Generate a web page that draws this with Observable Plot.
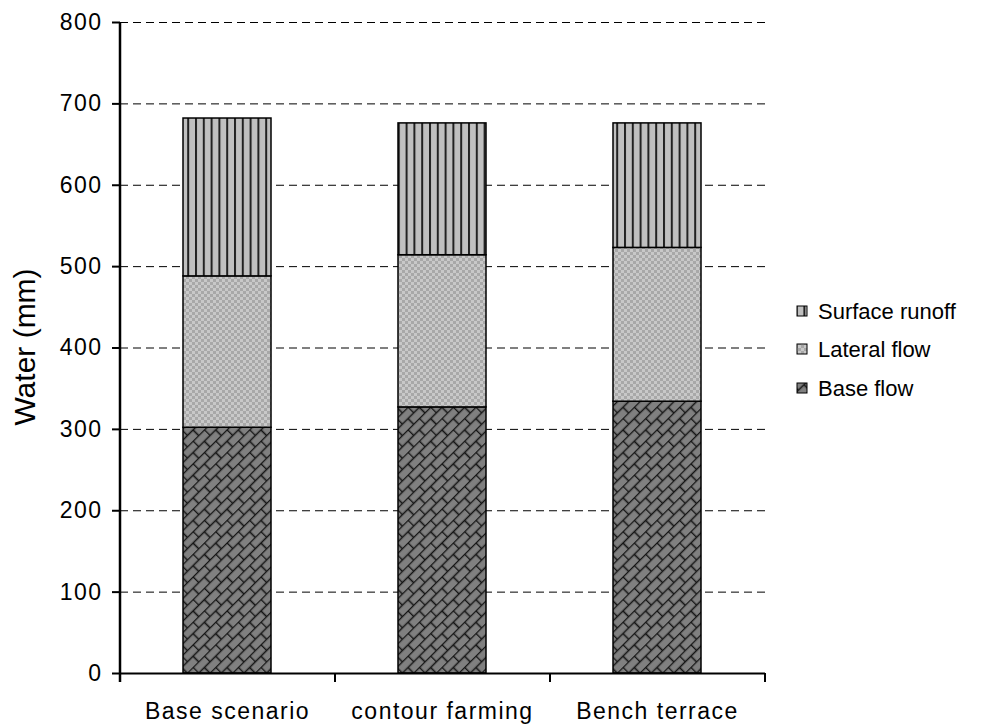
<!DOCTYPE html>
<html><head><meta charset="utf-8">
<script src="https://cdn.jsdelivr.net/npm/d3@7"></script>
<script src="https://cdn.jsdelivr.net/npm/@observablehq/plot@0.6"></script>
<style>body{margin:0;background:#fff;font-family:"Liberation Sans",Arial,sans-serif}</style>
</head><body><div id="chart"></div>
<script>
const categories = ["Base scenario", "contour farming", "Bench terrace"];
const series = ["Base flow", "Lateral flow", "Surface runoff"];
const baseFlow = [302, 327, 334];
const lateralFlow = [186, 187, 189];
const surfaceRunoff = [194, 162, 153];
const yTicks = [0, 100, 200, 300, 400, 500, 600, 700, 800];
const gridTicks = [100, 200, 300, 400, 500, 600, 700, 800];
const legendOrder = ["Surface runoff", "Lateral flow", "Base flow"];
const yTitle = "Water (mm)";

const valuesBySeries = {"Base flow": baseFlow, "Lateral flow": lateralFlow, "Surface runoff": surfaceRunoff};
const patternIds = {"Base flow": "pBase", "Lateral flow": "pLateral", "Surface runoff": "pSurface"};
const data = series.flatMap(s => categories.map((c, i) => ({category: c, series: s, value: valuesBySeries[s][i]})));

const step = (984 - 120 - 219) / categories.length;
const font = "Liberation Sans, Arial, sans-serif";

const chart = Plot.plot({
  width: 984, height: 724,
  marginLeft: 120, marginRight: 219, marginTop: 22, marginBottom: 51,
  style: {fontFamily: font, fontSize: "23px", color: "#000", background: "#fff", overflow: "visible"},
  x: {domain: categories, paddingInner: 0.59, paddingOuter: 0.295, label: null},
  y: {domain: [0, 800], label: null},
  color: {domain: series, range: series.map(s => `url(#${patternIds[s]})`)},
  marks: [
    Plot.ruleY(gridTicks, {stroke: "#000", strokeWidth: 1, strokeDasharray: "8,5"}),
    Plot.barY(data, {x: "category", y: "value", fill: "series", stroke: "#000", strokeWidth: 1.5}),
    Plot.axisY({ticks: yTicks, tickSize: 8, tickPadding: 10, strokeWidth: 2, label: null}),
    Plot.axisX({tickSize: 0, tickPadding: 29, label: null}),
    Plot.ruleY([0], {stroke: "#000", strokeWidth: 2}),
    Plot.ruleX([categories[0]], {dx: -step / 2, y1: 800, y2: 0, insetBottom: -9, stroke: "#000", strokeWidth: 2.5}),
    Plot.ruleX(categories.slice(1), {dx: -step / 2, y1: 0, y2: 0, insetBottom: -9, stroke: "#000", strokeWidth: 2}),
    Plot.ruleX([categories[categories.length - 1]], {dx: step / 2, y1: 0, y2: 0, insetBottom: -9, stroke: "#000", strokeWidth: 2})
  ]
});

const svg = d3.select(chart);
svg.selectAll('g[aria-label="y-axis tick label"], g[aria-label="x-axis tick label"]')
  .attr("font-size", 23).attr("letter-spacing", "1.5px");
const defs = svg.insert("defs", ":first-child");
// Surface runoff: vertical stripes
const ps = defs.append("pattern").attr("id", "pSurface").attr("patternUnits", "userSpaceOnUse").attr("width", 7.8).attr("height", 8);
ps.append("rect").attr("width", 7.8).attr("height", 8).attr("fill", "#c0c0c0");
ps.append("rect").attr("x", 0).attr("width", 2).attr("height", 8).attr("fill", "#222");
// Lateral flow: fine checkerboard
const pl = defs.append("pattern").attr("id", "pLateral").attr("patternUnits", "userSpaceOnUse").attr("width", 6).attr("height", 6);
pl.append("rect").attr("width", 6).attr("height", 6).attr("fill", "#c8c8c8");
pl.append("rect").attr("width", 3).attr("height", 3).attr("fill", "#a8a8a8");
pl.append("rect").attr("x", 3).attr("y", 3).attr("width", 3).attr("height", 3).attr("fill", "#a8a8a8");
// Base flow: diagonal bricks
const pb = defs.append("pattern").attr("id", "pBase").attr("patternUnits", "userSpaceOnUse").attr("width", 16).attr("height", 16).attr("patternTransform", "rotate(-45)");
pb.append("rect").attr("width", 16).attr("height", 16).attr("fill", "#808080");
pb.append("path").attr("d", "M0,0.5H16M0,8.5H16M0.5,0V8M8.5,8V16").attr("stroke", "#151515").attr("stroke-width", 1.6).attr("fill", "none");

// Legend
const lg = svg.append("g").attr("font-family", font).attr("font-size", 22).attr("text-anchor", "start");
const legendY = [311, 349, 388];
legendOrder.forEach((s, i) => {
  lg.append("rect").attr("x", 797).attr("y", legendY[i] - 5).attr("width", 10).attr("height", 10)
    .attr("fill", `url(#${patternIds[s]})`).attr("stroke", "#000").attr("stroke-width", 1);
  lg.append("text").attr("x", 818).attr("y", legendY[i]).attr("dy", "0.35em").attr("fill", "#000").text(s);
});
// Y axis title
svg.append("text").attr("transform", "translate(35,347) rotate(-90)").attr("text-anchor", "middle")
  .attr("font-family", font).attr("font-size", 30).attr("fill", "#000").text(yTitle);

document.getElementById("chart").appendChild(chart);
</script></body></html>
